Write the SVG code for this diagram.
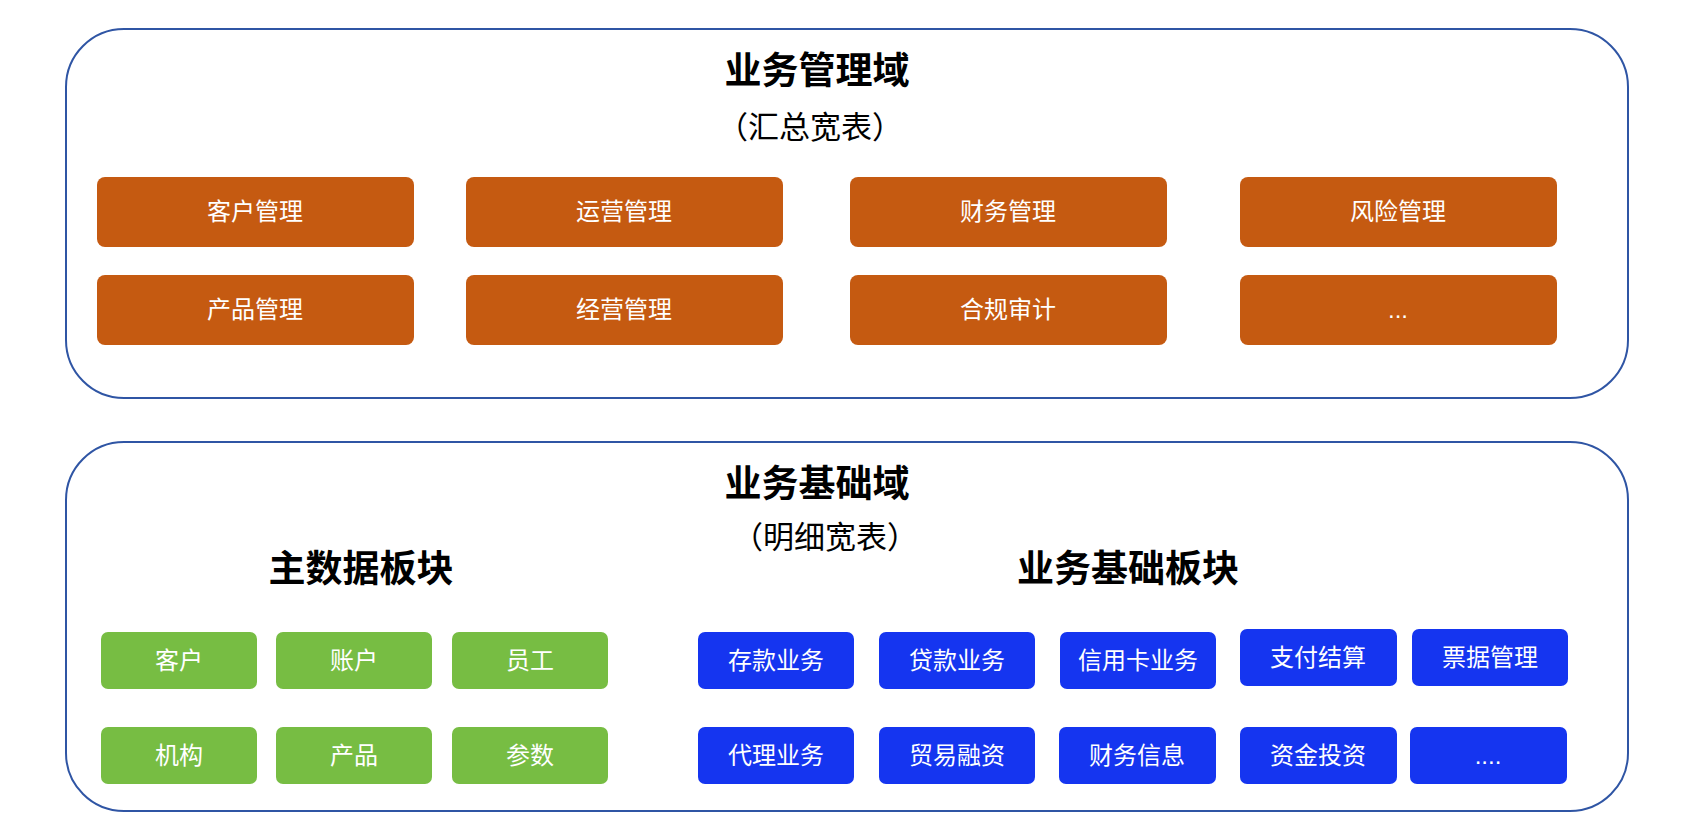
<svg xmlns="http://www.w3.org/2000/svg" width="1692" height="832" viewBox="0 0 1692 832">
<style>
text{font-family:"Liberation Sans","Noto Sans CJK SC",sans-serif;text-anchor:middle}
.c{fill:#fff;stroke:#2f55a4;stroke-width:2}
.o{fill:#c55a11}.g{fill:#77bd43}.b{fill:#1535f0}
.l{fill:#fff;font-size:24px}
.t{font-size:37px;font-weight:bold;fill:#000}
.s{font-size:31px;fill:#000}
</style>
<g id="domain1"><rect class="c" x="66" y="29" width="1562" height="369" rx="58"/>
<text class="t" x="817" y="84">业务管理域</text><text class="s" x="810" y="138">（汇总宽表）</text></g>
<g id="domain2"><rect class="c" x="66" y="442" width="1562" height="369" rx="58"/>
<text class="t" x="817" y="497">业务基础域</text><text class="s" x="825" y="548">（明细宽表）</text>
<text class="t" x="361" y="582">主数据板块</text><text class="t" x="1128" y="582">业务基础板块</text></g>
<g id="o1"><rect class="o" x="97" y="177" width="317" height="70" rx="8"/><text class="l" x="255" y="220">客户管理</text></g>
<g id="o2"><rect class="o" x="466" y="177" width="317" height="70" rx="8"/><text class="l" x="624" y="220">运营管理</text></g>
<g id="o3"><rect class="o" x="850" y="177" width="317" height="70" rx="8"/><text class="l" x="1008" y="220">财务管理</text></g>
<g id="o4"><rect class="o" x="1240" y="177" width="317" height="70" rx="8"/><text class="l" x="1398" y="220">风险管理</text></g>
<g id="o5"><rect class="o" x="97" y="275" width="317" height="70" rx="8"/><text class="l" x="255" y="318">产品管理</text></g>
<g id="o6"><rect class="o" x="466" y="275" width="317" height="70" rx="8"/><text class="l" x="624" y="318">经营管理</text></g>
<g id="o7"><rect class="o" x="850" y="275" width="317" height="70" rx="8"/><text class="l" x="1008" y="318">合规审计</text></g>
<g id="o8"><rect class="o" x="1240" y="275" width="317" height="70" rx="8"/><text class="l" x="1398" y="318">...</text></g>
<g id="g1"><rect class="g" x="101" y="632" width="156" height="57" rx="7"/><text class="l" x="179" y="669">客户</text></g>
<g id="g2"><rect class="g" x="276" y="632" width="156" height="57" rx="7"/><text class="l" x="354" y="669">账户</text></g>
<g id="g3"><rect class="g" x="452" y="632" width="156" height="57" rx="7"/><text class="l" x="530" y="669">员工</text></g>
<g id="g4"><rect class="g" x="101" y="727" width="156" height="57" rx="7"/><text class="l" x="179" y="764">机构</text></g>
<g id="g5"><rect class="g" x="276" y="727" width="156" height="57" rx="7"/><text class="l" x="354" y="764">产品</text></g>
<g id="g6"><rect class="g" x="452" y="727" width="156" height="57" rx="7"/><text class="l" x="530" y="764">参数</text></g>
<g id="b1"><rect class="b" x="698" y="632" width="156" height="57" rx="7"/><text class="l" x="776" y="669">存款业务</text></g>
<g id="b2"><rect class="b" x="879" y="632" width="156" height="57" rx="7"/><text class="l" x="957" y="669">贷款业务</text></g>
<g id="b3"><rect class="b" x="1060" y="632" width="156" height="57" rx="7"/><text class="l" x="1138" y="669">信用卡业务</text></g>
<g id="b4"><rect class="b" x="1240" y="629" width="157" height="57" rx="7"/><text class="l" x="1318" y="666">支付结算</text></g>
<g id="b5"><rect class="b" x="1412" y="629" width="156" height="57" rx="7"/><text class="l" x="1490" y="666">票据管理</text></g>
<g id="b6"><rect class="b" x="698" y="727" width="156" height="57" rx="7"/><text class="l" x="776" y="764">代理业务</text></g>
<g id="b7"><rect class="b" x="879" y="727" width="156" height="57" rx="7"/><text class="l" x="957" y="764">贸易融资</text></g>
<g id="b8"><rect class="b" x="1059" y="727" width="157" height="57" rx="7"/><text class="l" x="1137" y="764">财务信息</text></g>
<g id="b9"><rect class="b" x="1240" y="727" width="157" height="57" rx="7"/><text class="l" x="1318" y="764">资金投资</text></g>
<g id="b10"><rect class="b" x="1410" y="727" width="157" height="57" rx="7"/><text class="l" x="1488" y="764">....</text></g>
<g id="connectors"/>
</svg>
